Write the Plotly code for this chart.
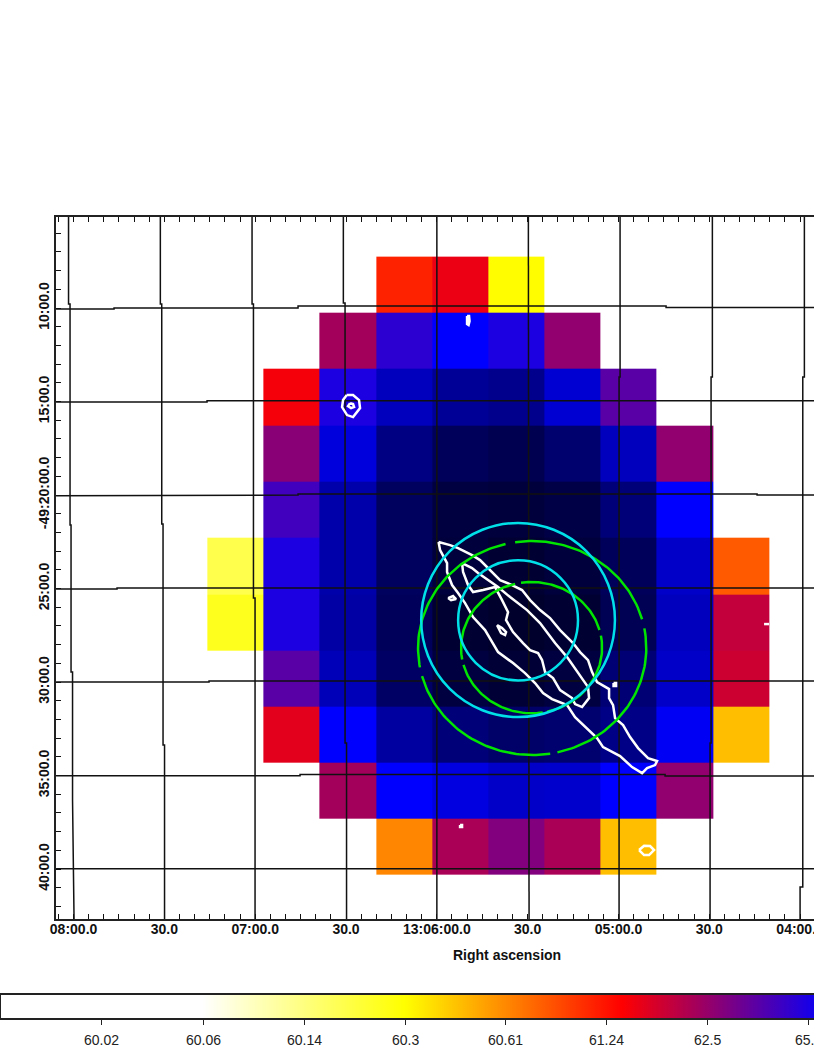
import numpy as np
import plotly.graph_objects as go

# map cells, RA in seconds after 13:04:00, Dec in arcmin after -49:00:00
ra_centers = [186.5, 167.9, 149.4, 130.8, 112.3, 93.7, 75.2, 56.6, 38.1, 19.5]
dec_centers = [8.75, 11.75, 14.75, 17.8, 20.8, 23.8, 26.8, 29.8, 32.8, 35.8, 38.8]
N = None
row0 = [N, N, N, 61.13, 61.54, 60.30, N, N, N, N]
row1 = [N, N, 62.32, 64.49, 65.79, 64.91, 62.57, N, N, N]
row2 = [N, 61.46, 64.91, 68.38, 70.43, 71.1, 67.46, 63.51, N, N]
row3 = [N, 62.68, 67.06, 71.7, 74.7, 75.5, 73.1, 68.38, 62.57, N]
row4 = [N, 64.02, 69.35, 74.3, 76.9, 77.4, 76.4, 72.4, 65.79, N]
row5 = [60.19, 64.91, 69.35, 74.3, 77.4, 78.4, 77.4, 74.7, 67.88, 60.81]
row6 = [60.25, 64.91, 69.6, 74.7, 78.4, 78.9, 78.4, 75.1, 68.38, 61.94]
row7 = [N, 63.51, 68.61, 73.9, 76.9, 77.9, 76.9, 72.7, 67.88, 61.83]
row8 = [N, 61.63, 65.79, 69.88, 72.4, 73.5, 73.1, 71.4, 66.11, 60.44]
row9 = [N, N, 62.32, 65.79, 66.87, 67.88, 67.67, 65.79, 62.57, N]
row10 = [N, N, N, 60.62, 62.23, 62.79, 62.23, 60.44, N, N]
cell_values = [row0, row1, row2, row3, row4, row5, row6, row7, row8, row9, row10]

# tick labels
ra_ticks = [240, 210, 180, 150, 120, 90, 60, 30, 0]
ra_labels = ["08:00.0", "30.0", "07:00.0", "30.0", "13:06:00.0", "30.0", "05:00.0", "30.0", "04:00.0"]
dec_ticks = [10, 15, 20, 25, 30, 35, 40]
dec_labels = ["10:00.0", "15:00.0", "-49:20:00.0", "25:00.0", "30:00.0", "35:00.0", "40:00.0"]
cbar_values = [60.02, 60.06, 60.14, 60.3, 60.61, 61.24, 62.5, 65.0]
cbar_labels = ["60.02", "60.06", "60.14", "60.3", "60.61", "61.24", "62.5", "65.0"]

# contours traced on the image, in image pixels
outer_x = [438.5, 450, 458, 472, 480, 490, 500, 512, 522, 530, 540, 550, 560, 573, 580, 588, 592, 597, 609, 609, 613, 615, 623, 630, 638, 648, 657, 655, 647, 642, 632, 620, 603, 597, 585, 575, 567, 552, 543, 535, 525, 513, 498, 493, 485, 473, 465, 458, 452, 447, 447, 440, 438.5]
outer_y = [542, 545, 548, 555, 560, 570, 580, 585, 590, 600, 610, 618, 630, 643, 652, 660, 672, 682, 689, 698, 705, 718, 725, 737, 748, 758, 761, 765, 768, 773, 767, 756, 747, 738, 727, 717, 705, 699, 693, 683, 673, 663, 652, 643, 630, 617, 603, 593, 585, 572, 563, 550, 542]
inner_x = [462, 472, 478, 488, 498, 510, 527, 540, 555, 567, 578, 588, 589, 582, 575, 572, 560, 553, 545, 542, 538, 530, 523, 513, 506, 508, 502, 495, 483, 473, 468, 463, 462]
inner_y = [563, 568, 573, 580, 587, 597, 610, 623, 643, 657, 673, 687, 698, 707, 704, 698, 690, 678, 672, 660, 653, 650, 643, 632, 620, 612, 600, 587, 590, 592, 585, 572, 563]
island_x = [497, 502, 506, 505, 501, 498, 497]
island_y = [625, 628, 632, 635, 633, 628, 625]
blob_x = [448, 453, 456, 451, 448]
blob_y = [598, 596, 599, 600, 598]
spot_x = [467, 469, 469.5, 468.5, 467, 467]
spot_y = [316, 316, 321, 325, 324, 316]
speck1_x = [613.5, 616, 616, 613.5, 613.5]
speck1_y = [683, 683, 686, 686, 683]
speck2_x = [460, 462, 462, 460, 460]
speck2_y = [825, 825, 827, 827, 825]
speck3_x = [764, 769]
speck3_y = [624, 624]
ring_x = [346.7, 353, 359, 360, 353, 347, 342, 343, 346.7]
ring_y = [395, 395, 400, 408, 417, 415, 407, 400, 395]
ring_in_x = [350, 353, 354, 351, 348, 350]
ring_in_y = [403, 404, 407, 408, 406, 403]
ring2_x = [639, 644, 650, 654, 649, 644, 639]
ring2_y = [850, 845.7, 846, 850, 855, 855, 850]
contours = [(outer_x, outer_y), (inner_x, inner_y), (island_x, island_y), (blob_x, blob_y), (spot_x, spot_y),
            (speck1_x, speck1_y), (speck2_x, speck2_y), (speck3_x, speck3_y), (ring_x, ring_y),
            (ring_in_x, ring_in_y), (ring2_x, ring2_y)]

# coordinate grid, it wobbles in small steps
v_lines = [
    ([68.5, 68.5, 70, 70, 71, 71, 72.5, 72.5, 74], [217, 304, 304, 525, 525, 672, 672, 800, 919]),
    ([160.3, 160.3, 161.7, 161.7, 163, 163, 164.5, 164.5], [217, 304, 304, 524, 524, 745, 745, 919]),
    ([252, 252, 253.4, 253.4, 255, 255], [217, 304, 304, 598, 598, 919]),
    ([343.3, 343.3, 345, 345, 346.5, 346.5], [217, 303, 303, 743, 743, 919]),
    ([436.8, 436.8], [217, 919]),
    ([528.3, 528.3, 529, 529], [217, 600, 600, 919]),
    ([620, 620, 619, 619], [217, 377, 377, 919]),
    ([712.3, 712.3, 711, 711, 710, 710], [217, 377, 377, 743, 743, 919]),
    ([804.3, 804.3, 802.7, 802.7, 800, 800], [217, 377, 377, 887, 887, 919]),
]
h_lines = [
    ([56, 114, 114, 298, 298, 666, 666, 814], [309, 309, 308, 308, 306, 306, 307.5, 307.5]),
    ([56, 207, 207, 814], [402, 402, 400.7, 400.7]),
    ([56, 63, 63, 298, 298, 757, 757, 814], [495.7, 495.7, 495, 495, 494, 494, 495, 495]),
    ([56, 117, 117, 814], [589, 589, 588, 588]),
    ([56, 209, 209, 814], [682, 682, 681, 681]),
    ([56, 300, 300, 665, 665, 814], [775.7, 775.7, 774.5, 774.5, 776, 776]),
    ([56, 814], [868.7, 868.7]),
]

# regions: (RA centre, Dec centre, RA radius, Dec radius)
cyan_regions = [(93.16, 26.68, 32.0, 5.19), (93.16, 26.7, 19.8, 3.21)]
green_regions = [(88.5, 28.18, 37.7, 5.72), (88.7, 28.16, 23.3, 3.51)]
green_arcs = [(15.6, 98.6), (103.5, 190.4), (195.2, 279.1), (282.8, 370.6)]

zmin, zmax = -5.648, 4.61
cbar_len = 1040


def ra_from_px(px):
    return (800 - np.array(px, dtype=float)) / 3.027


def dec_from_px(py):
    return 10 + (np.array(py, dtype=float) - 308) / 18.7


def scale(values):
    # display stretch of the colour bar, doubling per tick above 59.98
    return np.log2(np.array(values, dtype=float) - 59.98)


fig = go.Figure()

fig.add_trace(go.Heatmap(
    x=ra_centers, y=dec_centers, z=scale(cell_values),
    zmin=zmin, zmax=zmax,
    colorscale=[[0, "#ffffff"], [0.195, "#ffffff"], [0.389, "#ffff00"], [0.598, "#ff0000"], [0.798, "#0000ff"], [1, "#000000"]],
    hoverinfo="skip",
    colorbar=dict(
        orientation="h", xref="container", yref="container", x=0, xanchor="left",
        y=27 / 1053, yanchor="bottom", lenmode="pixels", len=cbar_len,
        thicknessmode="pixels", thickness=25, xpad=0, ypad=0,
        outlinewidth=2, outlinecolor="#222222", borderwidth=0,
        tickmode="array", tickvals=scale(cbar_values), showticklabels=False,
        ticks="outside", ticklen=5, tickcolor="#222222",
    ),
))

for xs, ys in v_lines + h_lines:
    fig.add_trace(go.Scatter(x=ra_from_px(xs), y=dec_from_px(ys), mode="lines",
                             line=dict(color="#111111", width=1.5), hoverinfo="skip", showlegend=False))

for xs, ys in contours:
    fig.add_trace(go.Scatter(x=ra_from_px(xs), y=dec_from_px(ys), mode="lines",
                             line=dict(color="white", width=2.5), hoverinfo="skip", showlegend=False))

for cra, cdec, rra, rdec in green_regions:
    for a0, a1 in green_arcs:
        theta = np.radians(np.linspace(a0, a1, 60))
        fig.add_trace(go.Scatter(x=cra - rra * np.cos(theta), y=cdec - rdec * np.sin(theta), mode="lines",
                                 line=dict(color="#00e600", width=2.5), hoverinfo="skip", showlegend=False))

for cra, cdec, rra, rdec in cyan_regions:
    fig.add_shape(type="circle", xref="x", yref="y", x0=cra - rra, x1=cra + rra, y0=cdec - rdec, y1=cdec + rdec,
                  line=dict(color="#00e0e8", width=2.5))

axis_font = dict(family="Liberation Sans", size=14, color="#111111", weight="bold")

fig.update_xaxes(
    range=[245.8, -4.6], tickmode="array", tickvals=ra_ticks, ticktext=ra_labels,
    ticks="inside", ticklen=5, tickcolor="#111111", tickangle=0, tickfont=axis_font,
    ticklabeloverflow="allow", ticklabelstandoff=-4,
    minor=dict(ticks="inside", ticklen=5, tick0=0, dtick=5, tickcolor="#111111"),
    showline=True, linecolor="#222222", linewidth=1.5, mirror="ticks", showgrid=False, zeroline=False,
)
fig.update_yaxes(
    range=[42.67, 5.13], tickmode="array", tickvals=dec_ticks, ticktext=dec_labels,
    ticks="inside", ticklen=5, tickcolor="#111111", tickangle=-90, tickfont=axis_font,
    minor=dict(ticks="inside", ticklen=5, tick0=0, dtick=1, tickcolor="#111111"),
    showline=True, linecolor="#222222", linewidth=1.5, showgrid=False, zeroline=False,
)

fig.add_annotation(text="<b>Right ascension</b>", xref="paper", yref="paper", x=0.595, y=-0.051,
                   yanchor="middle", xanchor="center", showarrow=False,
                   font=dict(family="Liberation Sans", size=14, color="#111111"))

# colour bar labels sit a little lower than plotly would put them
for value, label in zip(cbar_values, cbar_labels):
    bar_px = (scale(value) - zmin) / (zmax - zmin) * cbar_len
    fig.add_annotation(text=label, xref="paper", yref="paper", x=(bar_px - 56) / 758, y=(919 - 1040) / 702,
                       yanchor="middle", xanchor="center", showarrow=False,
                       font=dict(family="Liberation Sans", size=14, color="#222222"))

fig.update_layout(
    width=814, height=1053, margin=dict(l=56, r=0, t=217, b=134, autoexpand=False),
    paper_bgcolor="white", plot_bgcolor="white", showlegend=False,
)

# no page margin, the figure runs to the window edge
fig.write_html("out.html", config={"displayModeBar": False},
               post_script="document.body.style.margin='0';document.documentElement.style.overflow='hidden';")
